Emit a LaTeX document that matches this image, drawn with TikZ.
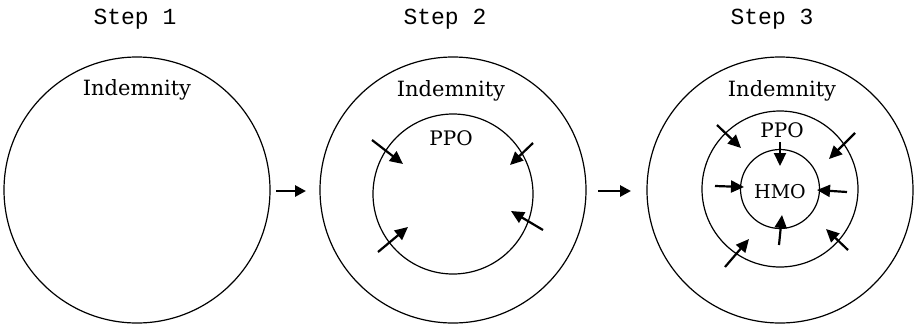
\documentclass[tikz,border=0pt]{standalone}
\usepackage{fontspec}
\setmainfont{DejaVu Serif}
\setmonofont{Liberation Mono}
\usetikzlibrary{arrows.meta}
\begin{document}
\begin{tikzpicture}[x=1pt,y=-1pt,
  ring/.style={circle,draw,line width=1.2pt,inner sep=0pt,minimum size=#1},
  steplabel/.style={anchor=base,font=\fontsize{23}{23}\selectfont\ttfamily},
  lab/.style={anchor=base,inner sep=0pt,font=\fontsize{21}{21}\selectfont},
  sublab/.style={anchor=base,inner sep=0pt,font=\fontsize{#1}{#1}\selectfont},
  inarrow/.style={line width=2.2pt,-{Triangle[length=13pt,width=12pt]}},
  nextarrow/.style={line width=2.8pt,-{Triangle[length=11pt,width=11pt]}}]
\useasboundingbox (0,0) rectangle (916,325);
% Step 1
\node[ring=266pt] (o1) at (137,190) {};
\node[steplabel] (s1) at (135,24) {Step 1};
\node[lab] (i1) at (137,95) {Indemnity};
% Step 2
\node[ring=266pt] (o2) at (453,190) {};
\node[ring=160pt] (p2) at (453,194) {};
\node[steplabel] (s2) at (445,24) {Step 2};
\node[lab] (i2) at (451,96) {Indemnity};
\node[sublab=20] (pp2) at (451,145) {PPO};
% Step 3
\node[ring=266pt] (o3) at (780,190) {};
\node[ring=156pt] (p3) at (780,189) {};
\node[ring=79pt] (h3) at (780,189) {};
\node[steplabel] (s3) at (772,24) {Step 3};
\node[lab] (i3) at (782,96) {Indemnity};
\node[sublab=20] (pp3) at (782,137) {PPO};
\node[sublab=19] (hm3) at (780,198) {HMO};
% step connectors
\coordinate (a1s) at (276,191); \coordinate (a1e) at (306,191);
\coordinate (a2s) at (598,191); \coordinate (a2e) at (631,191);
\draw[nextarrow] (a1s) -- (a1e);
\draw[nextarrow] (a2s) -- (a2e);
% step 2 arrows
\coordinate (t21) at (372,140); \coordinate (h21) at (403,164);
\coordinate (t22) at (533,143); \coordinate (h22) at (510,165);
\coordinate (t23) at (378,252); \coordinate (h23) at (408,227);
\coordinate (t24) at (543,230); \coordinate (h24) at (511,211);
\draw[inarrow] (t21) -- (h21);
\draw[inarrow] (t22) -- (h22);
\draw[inarrow] (t23) -- (h23);
\draw[inarrow] (t24) -- (h24);
% step 3 arrows
\coordinate (t31) at (717,125); \coordinate (h31) at (741,148);
\coordinate (t32) at (855,133); \coordinate (h32) at (829,159);
\coordinate (t33) at (780,142); \coordinate (h33) at (780,166);
\coordinate (t34) at (715,186); \coordinate (h34) at (744,187);
\coordinate (t35) at (847,192); \coordinate (h35) at (817,190);
\coordinate (t36) at (779,245); \coordinate (h36) at (782,215);
\coordinate (t37) at (725,267); \coordinate (h37) at (749,239);
\coordinate (t38) at (848,250); \coordinate (h38) at (826,229);
\foreach \k in {1,...,8} {\draw[inarrow] (t3\k) -- (h3\k);}
\end{tikzpicture}
\end{document}
